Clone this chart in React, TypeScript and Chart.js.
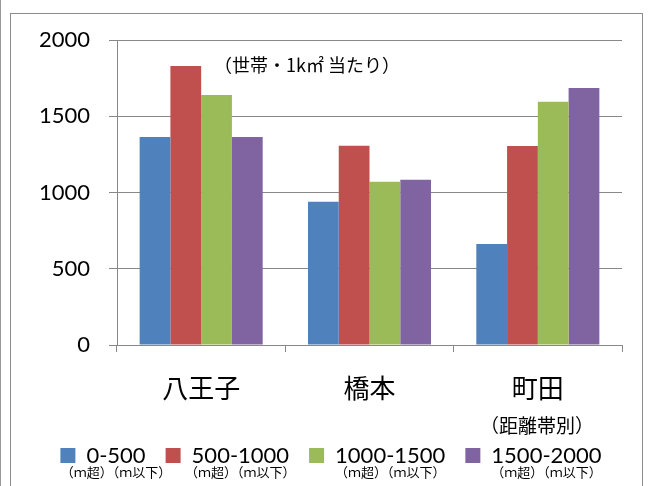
import React, { useEffect, useRef } from "react";
import { Chart, registerables } from "chart.js";

Chart.register(...registerables);

const categories = ["八王子", "橋本", "町田"];
const seriesLabels = ["0-500", "500-1000", "1000-1500", "1500-2000"];
const seriesSubLabels = ["（ｍ超）（ｍ以下）", "（ｍ超）（ｍ以下）", "（ｍ超）（ｍ以下）", "（ｍ超）（ｍ以下）"];
const values0to500 = [1364, 940, 662];
const values500to1000 = [1830, 1307, 1305];
const values1000to1500 = [1639, 1071, 1595];
const values1500to2000 = [1364, 1084, 1685];
const yTicks = [0, 500, 1000, 1500, 2000];
const seriesColors = ["#4F81BD", "#C0504D", "#9BBB59", "#8064A2"];
const unitNote = "（世帯・1k㎡ 当たり）";
const axisNote = "（距離帯別）";

const GRID = "#888888";
const NUM_FONT = "Lato, 'Open Sans', sans-serif";
const CJK_FONT = "'Noto Sans CJK JP', 'Noto Sans', sans-serif";

const notesPlugin = {
  id: "notes",
  afterDraw(chart: any) {
    const ctx = chart.ctx;
    const area = chart.chartArea;
    ctx.save();
    ctx.fillStyle = "#000";
    ctx.textAlign = "center";
    ctx.textBaseline = "middle";
    ctx.font = `18px ${CJK_FONT}`;
    ctx.fillText(unitNote, area.left + 190, area.top + 25);
    ctx.font = `19px ${CJK_FONT}`;
    ctx.fillText(axisNote, area.right - 85, area.bottom + 81);
    const legend = chart.legend;
    if (legend && legend.legendHitBoxes) {
      ctx.font = `13px ${CJK_FONT}`;
      legend.legendHitBoxes.forEach((hb: any, i: number) => {
        const cx = hb.left + 13 + hb.width / 2;
        ctx.fillText(seriesSubLabels[i], cx, hb.top + hb.height + 6);
      });
    }
    ctx.restore();
  },
};

function BarChart() {
  const ref = useRef<HTMLCanvasElement | null>(null);
  useEffect(() => {
    if (!ref.current) return;
    const seriesValues = [values0to500, values500to1000, values1000to1500, values1500to2000];
    const chart = new Chart(ref.current, {
      type: "bar",
      data: {
        labels: categories,
        datasets: seriesLabels.map((label, i) => ({
          label,
          data: seriesValues[i],
          backgroundColor: seriesColors[i],
          borderWidth: 0,
          categoryPercentage: 0.731,
          barPercentage: 1,
        })),
      },
      options: {
        responsive: false,
        animation: false,
        layout: { padding: { left: 40, right: 26, top: 40, bottom: 9.5 } },
        plugins: {
          tooltip: { enabled: false },
          legend: {
            position: "bottom",
            labels: {
              boxWidth: 15,
              boxHeight: 15,
              padding: 20,
              color: "#000",
              font: { family: NUM_FONT, size: 22 },
            },
          },
        },
        scales: {
          x: {
            afterFit(scale: any) {
              scale.height = 79.5;
            },
            grid: {
              display: true,
              drawOnChartArea: false,
              drawTicks: true,
              tickLength: 7,
              color: GRID,
              offset: true,
            },
            border: { display: true, color: GRID, width: 1 },
            ticks: {
              color: "#000",
              padding: 21,
              font: { family: CJK_FONT, size: 26, lineHeight: 1.2 },
            },
          },
          y: {
            min: 0,
            max: 2000,
            afterFit(scale: any) {
              scale.width = 77;
            },
            afterBuildTicks(scale: any) {
              scale.ticks = yTicks.map((v) => ({ value: v }));
            },
            grid: {
              color: GRID,
              tickLength: 8,
              drawTicks: true,
            },
            border: { display: true, color: GRID, width: 1 },
            ticks: {
              color: "#000",
              padding: 19,
              font: { family: NUM_FONT, size: 22 },
              callback: (v: any) => String(v),
            },
          },
        },
      },
      plugins: [notesPlugin],
    });
    return () => chart.destroy();
  }, []);
  return <canvas ref={ref} width={648} height={486} style={{ position: "absolute", left: 0, top: 0 }} />;
}

export default function App() {
  return (
    <div style={{ position: "fixed", left: 0, top: 0, width: 648, height: 486, background: "#fff", overflow: "hidden" }}>
      <div style={{ position: "absolute", left: 0, top: 0, width: 1, height: 486, background: "#999" }} />
      <div
        style={{
          position: "absolute",
          left: 10,
          top: 13,
          width: 633,
          height: 490,
          border: "1px solid #8c8c8c",
          boxSizing: "border-box",
        }}
      />
      <BarChart />
    </div>
  );
}
